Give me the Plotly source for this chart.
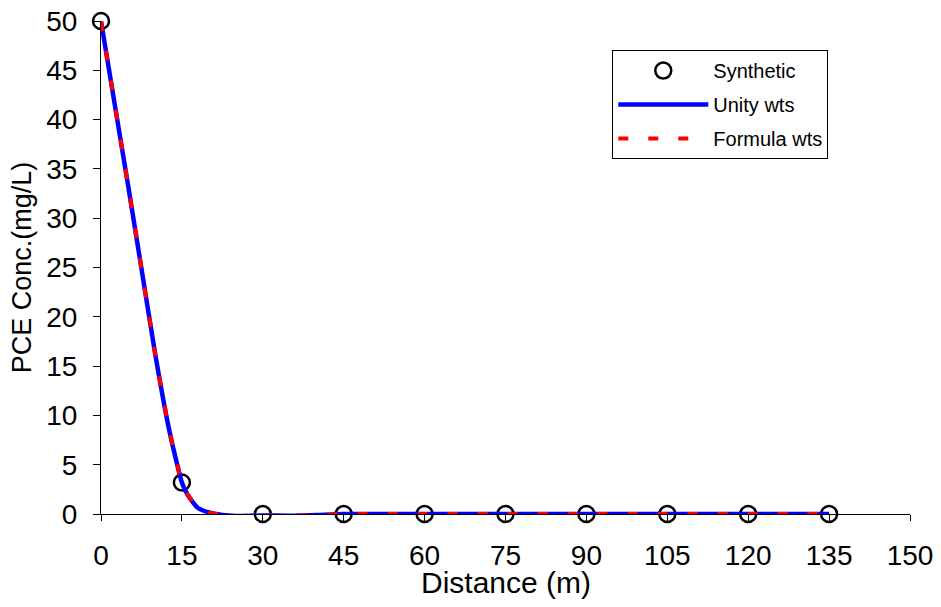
import plotly.graph_objects as go

# Synthetic observations
syn_x = [0, 15, 30, 45, 60, 75, 90, 105, 120, 135]
syn_y = [50, 3.2, 0, 0, 0, 0, 0, 0, 0, 0]

# Fitted model curves
fit_x = [0, 2.5, 5, 7.5, 10, 12.5, 14, 15, 16, 18, 20, 22.5, 25, 30, 35, 40, 45,
         60, 75, 90, 105, 120, 135]
unity_y = [50, 41.7, 33.4, 24.9, 16.4, 8.9, 5.3, 3.2, 2.0, 0.6, 0.15, -0.1, -0.2,
           -0.15, -0.18, -0.1, 0, 0, 0, 0, 0, 0, 0]
formula_y = [50, 41.7, 33.4, 24.9, 16.4, 8.9, 5.3, 3.2, 2.0, 0.6, 0.15, -0.1, -0.2,
             -0.15, -0.18, -0.1, 0, 0, 0, 0, 0, 0, 0]

x_ticks = list(range(0, 151, 15))
y_ticks = list(range(0, 51, 5))

FONT = "Arial, Liberation Sans, sans-serif"

fig = go.Figure()
fig.add_trace(go.Scatter(
    x=syn_x, y=syn_y, mode="markers", name="Synthetic",
    marker=dict(symbol="circle-open", size=16, color="black", line=dict(width=2.5)),
    cliponaxis=False, legendgroup="a"))
fig.add_trace(go.Scatter(
    x=fit_x, y=unity_y, mode="lines", name="Unity wts",
    line=dict(color="#0000ff", width=4.5, shape="spline", smoothing=0.6),
    cliponaxis=False, legendgroup="b"))
fig.add_trace(go.Scatter(
    x=fit_x, y=formula_y, mode="lines", name="Formula wts",
    line=dict(color="#ff0000", width=4, dash="10px,20px", shape="spline", smoothing=0.6),
    cliponaxis=False, legendgroup="c"))

fig.update_layout(
    width=941, height=607,
    margin=dict(l=101, r=31, t=21, b=93, autoexpand=False),
    paper_bgcolor="white", plot_bgcolor="white",
    font=dict(family=FONT, size=28, color="black"),
    showlegend=True,
    legend=dict(
        x=0.632, y=0.941, xanchor="left", yanchor="top",
        bordercolor="black", borderwidth=1, bgcolor="white",
        font=dict(size=20), tracegroupgap=5, traceorder="grouped",
        itemwidth=90,
    ),
    xaxis=dict(
        range=[0, 150], tickvals=x_ticks, showgrid=False, zeroline=False,
        showline=True, linecolor="black", linewidth=1, automargin=False,
        ticks="outside", ticklen=6, tickcolor="black",
        ticklabelstandoff=10, tickfont=dict(size=28),
    ),
    yaxis=dict(
        range=[0, 50], tickvals=y_ticks, showgrid=False, zeroline=False,
        showline=True, linecolor="black", linewidth=1, automargin=False,
        ticks="outside", ticklen=7, tickcolor="black",
        ticklabelstandoff=10, tickfont=dict(size=28),
        title=dict(text="PCE Conc.(mg/L)", font=dict(size=27), standoff=6),
    ),
    annotations=[dict(
        text="Distance (m)", xref="paper", yref="paper", x=0.5, y=-0.138,
        xanchor="center", yanchor="middle", showarrow=False,
        font=dict(size=30, family=FONT, color="black"),
    )],
)

fig.write_html("out.html")
